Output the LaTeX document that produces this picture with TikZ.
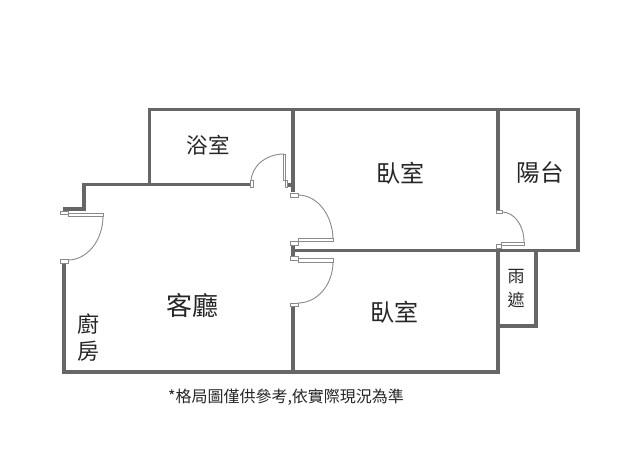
\documentclass[tikz,border=0pt]{standalone}
\usepackage{fontspec}
\setmainfont{Liberation Sans}
\newfontfamily\cjk{Noto Sans CJK TC}
\definecolor{wallgray}{HTML}{666666}
\definecolor{doorgray}{HTML}{8A8A8A}
\tikzset{
  wall/.style={draw=wallgray,line width=3.8pt,line cap=rect,line join=miter},
  doorpart/.style={draw=doorgray,line width=0.9pt,fill=white},
  swing/.style={draw=doorgray,line width=0.9pt},
  roomlabel/.style={text=black!85,inner sep=0pt,font=\cjk\fontsize{24}{26}\selectfont},
  smalllabel/.style={text=black!85,inner sep=0pt,font=\cjk\fontsize{17}{19}\selectfont},
  notelabel/.style={text=black!85,inner sep=0pt,font=\cjk\fontsize{16}{18}\selectfont}
}
\begin{document}
\begin{tikzpicture}[x=1pt,y=-1pt]
\useasboundingbox[fill=white] (0,0) rectangle (638,460);
% walls
\draw[wall] (149.5,184) -- (149.5,109.5) -- (578,109.5) -- (578,250.5) -- (293,250.5);
\draw[wall] (65,209) -- (84,209) -- (84,184.5) -- (250,184.5);
\draw[wall] (64,266) -- (64,372) -- (498,372);
\draw[wall] (293,109.5) -- (293,190);
\draw[wall] (288,185) -- (293,185);
\draw[wall] (293,247) -- (293,255);
\draw[wall] (293,308) -- (293,372);
\draw[wall] (498,109.5) -- (498,209);
\draw[wall] (498,249) -- (498,372);
\draw[wall] (498,326) -- (536,326) -- (536,250.5);
% entrance door
\draw[swing] (103,216) .. controls (103,240.3) and (87.3,260) .. (68,260);
\draw[doorpart] (60,211) rectangle (68,214.5);
\draw[doorpart] (68,213) rectangle (103,216);
\draw[doorpart] (60,259.5) rectangle (68,263);
% bath door
\draw[swing] (284,154) .. controls (265.8,154) and (251,166.5) .. (251,182);
\draw[doorpart] (283,154) rectangle (285,180);
\draw[doorpart] (285,180) rectangle (287.5,187);
\draw[doorpart] (250,180) rectangle (253,187);
% bedroom doors
\draw[swing] (298,195) .. controls (317.3,195) and (333,215.1) .. (333,240);
\draw[doorpart] (290,193) rectangle (298,197);
\draw[doorpart] (298,238.5) rectangle (333,241.5);
\draw[doorpart] (290,241.5) rectangle (298,245);
\draw[swing] (333,262) .. controls (333,284.6) and (317.3,303) .. (298,303);
\draw[doorpart] (290,256.5) rectangle (298,260);
\draw[doorpart] (298,258.5) rectangle (333,262);
\draw[doorpart] (290,303) rectangle (298,306.5);
% balcony door
\draw[swing] (502,212) .. controls (514.2,212) and (524,225.4) .. (524,242);
\draw[doorpart] (496,210.5) rectangle (502,213.5);
\draw[doorpart] (501,242) rectangle (524,245);
\draw[doorpart] (496,244) rectangle (501,248);
% labels
\node[roomlabel,font=\cjk\fontsize{21.5}{23}\selectfont] (bath) at (208,145) {浴室};
\node[roomlabel] (bed1) at (400,173) {臥室};
\node[roomlabel,font=\cjk\fontsize{23.5}{25}\selectfont] (balcony) at (540,173) {陽台};
\node[smalllabel] (rain1) at (516,277) {雨};
\node[smalllabel] (rain2) at (516,300) {遮};
\node[roomlabel,font=\cjk\fontsize{26}{28}\selectfont] (living) at (192,306) {客廳};
\node[roomlabel,font=\cjk\fontsize{22}{24}\selectfont] (kitchen1) at (88,324) {廚};
\node[roomlabel,font=\cjk\fontsize{22}{24}\selectfont] (kitchen2) at (88,351) {房};
\node[roomlabel] (bed2) at (394,312) {臥室};
\node[notelabel] (note) at (286,397) {*格局圖僅供參考,依實際現況為準};
\end{tikzpicture}
\end{document}
